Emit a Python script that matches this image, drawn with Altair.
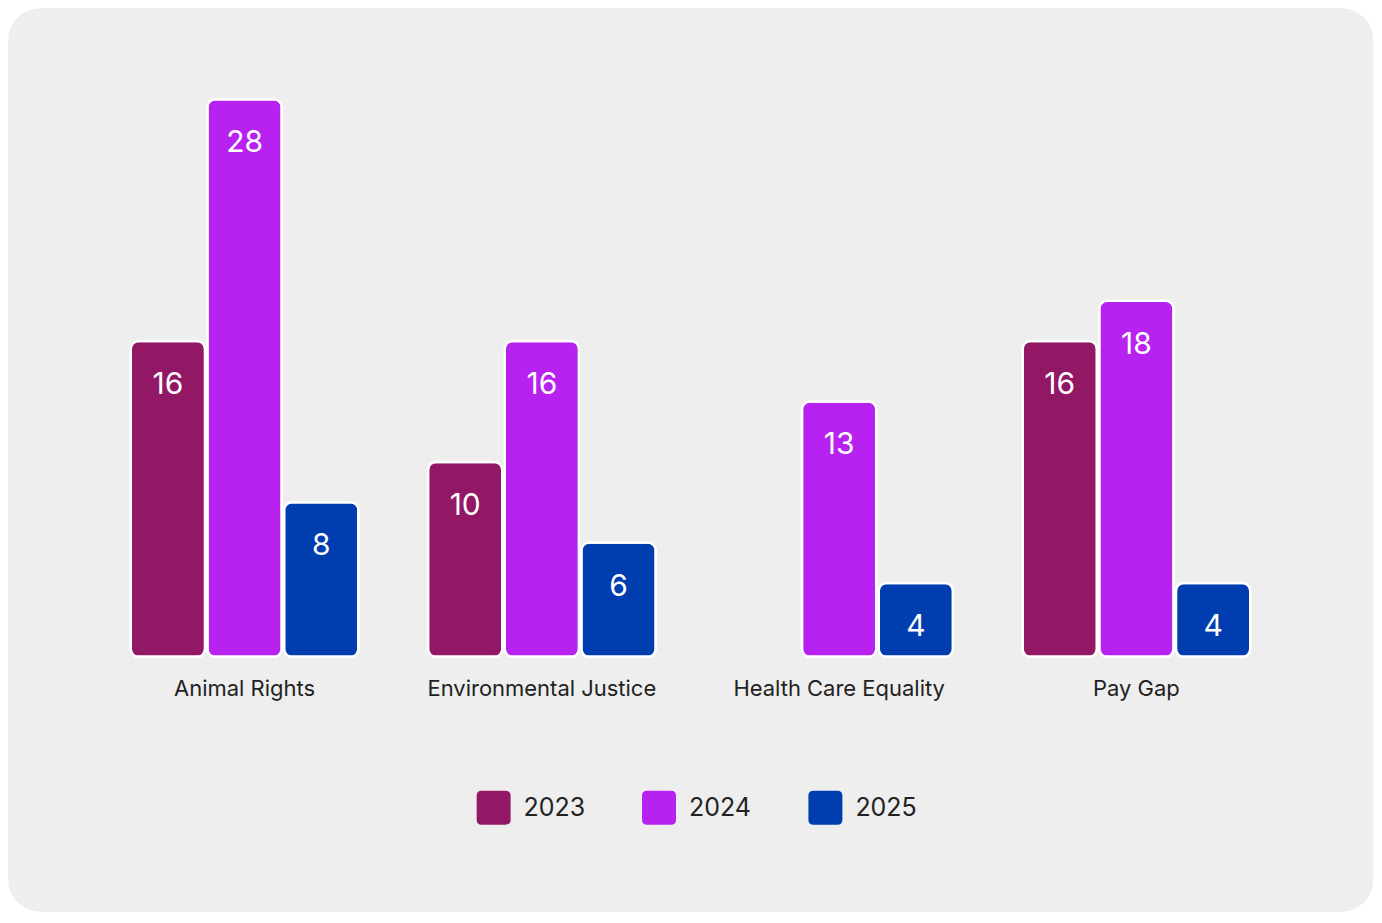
import altair as alt
import pandas as pd

categories = ["Animal Rights", "Environmental Justice", "Health Care Equality", "Pay Gap"]
years = ["2023", "2024", "2025"]
values_2023 = [16, 10, None, 16]
values_2024 = [28, 16, 13, 18]
values_2025 = [8, 6, 4, 4]
colors = ["#921866", "#B822F0", "#003DAE"]

rows = []
for yr, vals in zip(years, [values_2023, values_2024, values_2025]):
    for cat, v in zip(categories, vals):
        if v is not None:
            rows.append({"category": cat, "year": yr, "value": v})
df = pd.DataFrame(rows)

FONT = "Inter"
W, H = 1190, 558

rounded_square = ("M -0.7 -1 L 0.7 -1 Q 1 -1 1 -0.7 L 1 0.7 Q 1 1 0.7 1 "
                  "L -0.7 1 Q -1 1 -1 0.7 L -1 -0.7 Q -1 -1 -0.7 -1 Z")

bg = alt.Chart(pd.DataFrame({"a": [0]})).mark_rect(
    color="#EEEEEE", cornerRadius=32
).encode(
    x=alt.value(-87.75), x2=alt.value(1278.25),
    y=alt.value(-91), y2=alt.value(813),
)

x_enc = alt.X(
    "category:N", sort=categories, title=None,
    scale=alt.Scale(paddingInner=0.234, paddingOuter=0.117),
    axis=alt.Axis(labelAngle=0, domain=False, ticks=False, labelFontSize=22,
                  labelColor="#222222", labelFont=FONT, labelPadding=22,
                  labelLimit=0, zindex=2),
)
xo_enc = alt.XOffset("year:N", sort=years,
                     scale=alt.Scale(paddingInner=0.03, paddingOuter=0))
y_enc = alt.Y("value:Q", axis=None,
              scale=alt.Scale(domain=[0.33, 28], zero=False, nice=False, clamp=True))

bars = alt.Chart(df).mark_bar(
    cornerRadius=8, stroke="white", strokeWidth=2.5
).encode(
    x=x_enc, xOffset=xo_enc, y=y_enc,
    color=alt.Color(
        "year:N", sort=years,
        scale=alt.Scale(domain=years, range=colors),
        legend=alt.Legend(
            title=None, orient="none", direction="horizontal",
            legendX=381, legendY=692, padding=0,
            symbolType=rounded_square, symbolSize=1156, symbolStrokeWidth=0,
            symbolOpacity=1, labelFontSize=25, labelFont=FONT,
            labelColor="#222222", labelOffset=13, columnPadding=56.5,
            zindex=2,
        ),
    ),
)

labels = alt.Chart(df).mark_text(
    color="white", fontSize=30, font=FONT, baseline="middle", dy=44
).encode(
    x=x_enc, xOffset=xo_enc, y=y_enc, text=alt.Text("value:Q"),
)

chart = alt.layer(bg, bars, labels).properties(
    width=W, height=H, padding=0, background="white"
).configure_view(stroke=None)

chart.save("out.html", embed_options={"renderer": "svg", "actions": False})
